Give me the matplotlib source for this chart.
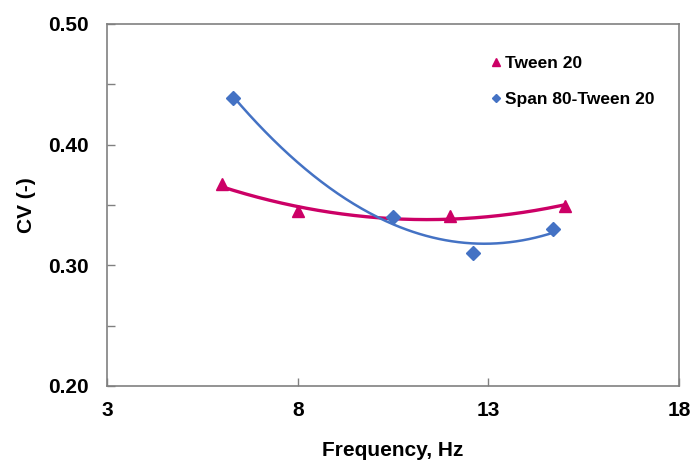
import matplotlib
matplotlib.use("Agg")
import matplotlib.pyplot as plt
import numpy as np

plt.rcParams.update({
    "font.family": ["Liberation Sans", "DejaVu Sans"],
    "font.weight": "bold",
    "font.size": 15,
})

# data
tween_x = [6.0, 8.0, 12.0, 15.0]
tween_y = [0.367, 0.345, 0.341, 0.349]
span_x = [6.3, 10.5, 12.6, 14.7]
span_y = [0.439, 0.340, 0.310, 0.330]

TWEEN_C = "#CC0066"
SPAN_C = "#4472C4"
AX_C = "#808080"

fig = plt.figure(figsize=(6.92, 4.61), dpi=100)
ax = fig.add_axes([0.155, 0.163, 0.826, 0.785])

# polynomial trend lines (like Excel trendlines)
for xs, ys, c, lw in [(tween_x, tween_y, TWEEN_C, 2.4), (span_x, span_y, SPAN_C, 1.8)]:
    p = np.polyfit(xs, ys, 2)
    xx = np.linspace(min(xs), max(xs), 200)
    ax.plot(xx, np.polyval(p, xx), color=c, lw=lw, zorder=2)

ax.plot(tween_x, tween_y, ls="none", marker="^", ms=9, color=TWEEN_C, zorder=3)
ax.plot(span_x, span_y, ls="none", marker="D", ms=7, color=SPAN_C, zorder=3)

# legend entries (small markers, no frame)
ax.plot([], [], ls="none", marker="^", ms=6, color=TWEEN_C, label="Tween 20")
ax.plot([], [], ls="none", marker="D", ms=4.5, color=SPAN_C, label="Span 80-Tween 20")
h, l = ax.get_legend_handles_labels()
ax.legend(h[-2:], l[-2:], loc="upper right", bbox_to_anchor=(0.985, 0.954), frameon=False,
          handlelength=0.6, handletextpad=0.2, labelspacing=1.2,
          prop={"weight": "bold", "size": 12.5})

ax.set_xlim(3, 18)
ax.set_ylim(0.20, 0.50)
ax.set_xticks([3, 8, 13, 18])
ax.set_yticks([0.20, 0.30, 0.40, 0.50])
ax.set_yticks([0.25, 0.35, 0.45], minor=True)
ax.set_yticklabels(["0.20", "0.30", "0.40", "0.50"])
ax.tick_params(direction="in", color=AX_C, length=6, width=1, labelsize=15)
ax.tick_params(axis="y", which="minor", direction="in", color=AX_C, length=6, width=1)
ax.tick_params(axis="y", pad=13)
ax.tick_params(axis="x", pad=11)
for s in ax.spines.values():
    s.set_color(AX_C)
    s.set_linewidth(1.2)

ax.set_xlabel("Frequency, Hz", fontsize=15, fontweight="bold", va="center")
ax.set_ylabel("CV (-)", fontsize=15, fontweight="bold", va="center")
ax.xaxis.set_label_coords(0.5, -0.180)
ax.yaxis.set_label_coords(-0.142, 0.5)

plt.savefig("out.png", dpi=100)
